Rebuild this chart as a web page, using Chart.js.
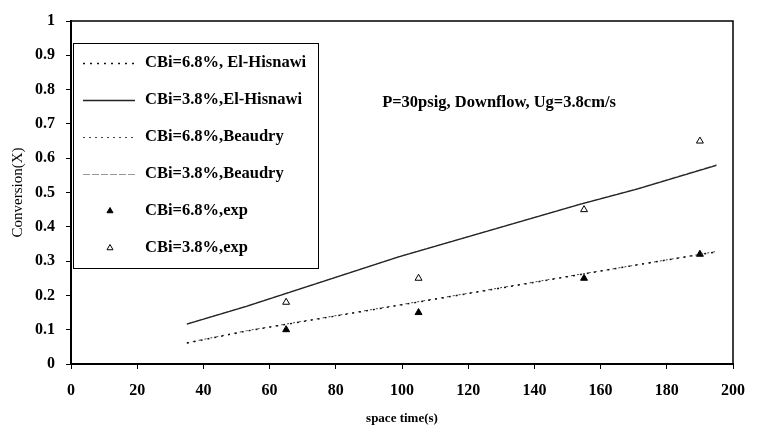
<!DOCTYPE html>
<html>
<head>
<meta charset="utf-8">
<script src="https://cdn.jsdelivr.net/npm/chart.js@4/dist/chart.umd.min.js"></script>
<style>
html, body { margin: 0; padding: 0; background: #fff; }
</style>
</head>
<body>
<canvas id="convchart" width="757" height="427"></canvas>
<script>
// model curves
var model_x = [35, 53, 99, 154, 171, 195];
var hisnawi_68 = [0.061, 0.096, 0.171, 0.261, 0.289, 0.327];
var hisnawi_38 = [0.116, 0.168, 0.312, 0.466, 0.510, 0.579];

var beaudry_68 = [0.062, 0.097, 0.172, 0.262, 0.289, 0.328];
var beaudry_38 = [0.117, 0.169, 0.313, 0.467, 0.511, 0.581];

// experimental points
var exp_x = [65, 105, 155, 190];
var exp_68 = [0.10, 0.15, 0.25, 0.32];
var exp_38 = [0.18, 0.25, 0.45, 0.65];

var labels = [
    "CBi=6.8%, El-Hisnawi",
    "CBi=3.8%,El-Hisnawi",
    "CBi=6.8%,Beaudry",
    "CBi=3.8%,Beaudry",
    "CBi=6.8%,exp",
    "CBi=3.8%,exp"
];

var note = "P=30psig, Downflow, Ug=3.8cm/s";

var serif = "'Liberation Serif', 'Times New Roman', serif";

function toPoints(xs, ys) {
    var pts = [];
    for (var i = 0; i < xs.length; i++) {
        pts.push({x: xs[i], y: ys[i]});
    }
    return pts;
}

function lineSet(label, xs, ys, color, width, dash) {
    return {
        label: label,
        data: toPoints(xs, ys),
        showLine: true,
        borderColor: color,
        borderWidth: width,
        borderDash: dash,
        pointRadius: 0,
        fill: false,
        tension: 0
    };
}

function pointSet(label, xs, ys, fillColor) {
    return {
        label: label,
        data: toPoints(xs, ys),
        showLine: false,
        pointStyle: 'triangle',
        pointRadius: 4,
        pointBackgroundColor: fillColor,
        pointBorderColor: '#000',
        pointBorderWidth: 1,
        backgroundColor: fillColor,
        borderColor: '#000',
        borderWidth: 1
    };
}

// top / right frame of the plot area
var framePlugin = {
    id: 'frame',
    afterDraw: function (chart) {
        var a = chart.chartArea;
        var ctx = chart.ctx;
        ctx.save();
        ctx.strokeStyle = '#000';
        ctx.lineWidth = 1.5;
        ctx.beginPath();
        ctx.moveTo(a.left, a.top);
        ctx.lineTo(a.right, a.top);
        ctx.lineTo(a.right, a.bottom);
        ctx.stroke();
        ctx.restore();
    }
};

// the annotation text
var notePlugin = {
    id: 'note',
    afterDraw: function (chart) {
        var ctx = chart.ctx;
        var x = chart.scales.x.getPixelForValue(94);
        var y = chart.scales.y.getPixelForValue(0.763);
        ctx.save();
        ctx.fillStyle = '#000';
        ctx.font = "bold 16.5px " + serif;
        ctx.textAlign = 'left';
        ctx.textBaseline = 'middle';
        ctx.fillText(note, x, y);
        ctx.restore();
    }
};

// boxed legend inside the plot
var boxLegendPlugin = {
    id: 'boxLegend',
    afterDraw: function (chart) {
        var ctx = chart.ctx;
        var left = 73, top = 43, width = 245, height = 225;
        ctx.save();
        ctx.fillStyle = '#fff';
        ctx.fillRect(left, top, width, height);
        ctx.strokeStyle = '#000';
        ctx.lineWidth = 1;
        ctx.strokeRect(left + 0.5, top + 0.5, width, height);

        chart.data.datasets.forEach(function (ds, i) {
            var y = top + 20 + i * 37;
            if (ds.showLine) {
                ctx.save();
                ctx.strokeStyle = ds.borderColor;
                ctx.lineWidth = ds.borderWidth;
                ctx.setLineDash(ds.borderDash || []);
                ctx.beginPath();
                ctx.moveTo(83, y + 0.5);
                ctx.lineTo(135, y + 0.5);
                ctx.stroke();
                ctx.restore();
            } else {
                ctx.save();
                ctx.fillStyle = ds.pointBackgroundColor;
                ctx.strokeStyle = ds.pointBorderColor;
                ctx.lineWidth = 1;
                Chart.helpers.drawPoint(ctx, {pointStyle: 'triangle', radius: 3.5, rotation: 0, borderWidth: 1}, 110, y);
                ctx.restore();
            }
            ctx.fillStyle = '#000';
            ctx.font = "bold 16.5px " + serif;
            ctx.textAlign = 'left';
            ctx.textBaseline = 'middle';
            ctx.fillText(ds.label, 145, y);
        });
        ctx.restore();
    }
};

var ctx = document.getElementById('convchart').getContext('2d');

var convchart = new Chart(ctx, {
    type: 'scatter',
    data: {
        datasets: [
            lineSet(labels[0], model_x, hisnawi_68, '#111', 1.5, [2, 5]),
            lineSet(labels[1], model_x, hisnawi_38, '#222', 1.3, []),
            lineSet(labels[2], model_x, beaudry_68, '#444', 1, [2, 4]),
            lineSet(labels[3], model_x, beaudry_38, '#999', 1, [7, 2]),
            pointSet(labels[4], exp_x, exp_68, '#000'),
            pointSet(labels[5], exp_x, exp_38, '#fff')
        ]
    },
    options: {
        responsive: false,
        animation: false,
        layout: { padding: { top: 21, right: 13, left: 0, bottom: 0 } },
        plugins: {
            legend: { display: false },
            tooltip: { enabled: false }
        },
        scales: {
            x: {
                type: 'linear',
                min: 0,
                max: 200,
                ticks: {
                    stepSize: 20,
                    color: '#000',
                    padding: 12,
                    font: { family: serif, size: 16, weight: 'bold' }
                },
                grid: { drawOnChartArea: false, tickLength: 5, color: '#000' },
                border: { color: '#000', width: 2 },
                title: {
                    display: true,
                    text: 'space time(s)',
                    color: '#000',
                    font: { family: serif, size: 13, weight: 'bold' },
                    padding: { top: 0, bottom: 1 }
                },
                afterFit: function (scale) { scale.height = 63; }
            },
            y: {
                min: 0,
                max: 1,
                ticks: {
                    stepSize: 0.1,
                    color: '#000',
                    padding: 11,
                    font: { family: serif, size: 16, weight: 'bold' },
                    callback: function (v) { return String(Math.round(v * 10) / 10); }
                },
                grid: { drawOnChartArea: false, tickLength: 5, color: '#000' },
                border: { color: '#000', width: 2 },
                title: {
                    display: true,
                    text: 'Conversion(X)',
                    color: '#000',
                    font: { family: serif, size: 15 },
                    padding: { top: 9, bottom: 0 }
                },
                afterFit: function (scale) { scale.width = 71; }
            }
        }
    },
    plugins: [framePlugin, notePlugin, boxLegendPlugin]
});
</script>
</body>
</html>
